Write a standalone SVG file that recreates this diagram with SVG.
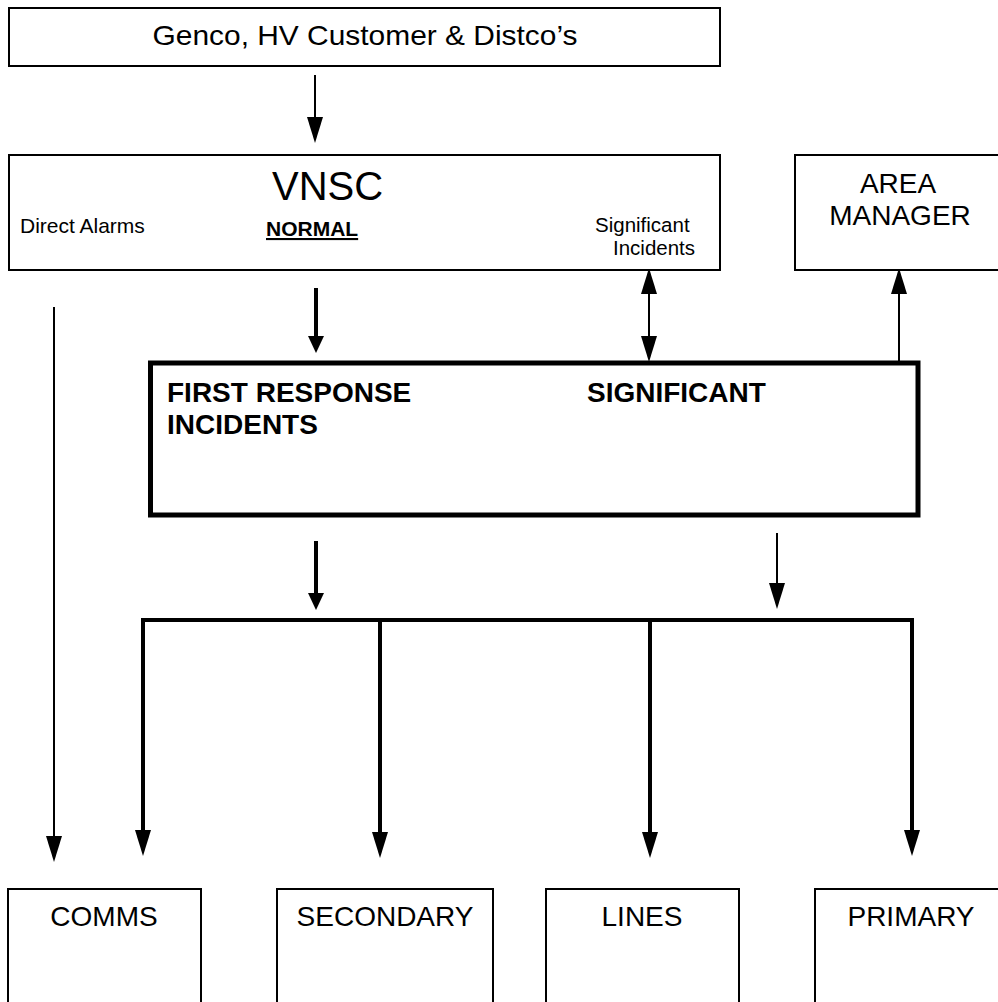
<svg xmlns="http://www.w3.org/2000/svg" width="998" height="1002" viewBox="0 0 998 1002">
<style>
.box{fill:#fff;stroke:#000;stroke-width:2}
.bigbox{fill:#fff;stroke:#000;stroke-width:5}
.t{font-family:"Liberation Sans",Arial,sans-serif;fill:#000}
.b{font-weight:bold}
.thin{stroke:#000;stroke-width:2;fill:none}
.thick{stroke:#000;stroke-width:4;fill:none}
</style>
<defs>
<marker id="ah" viewBox="0 0 26 16" refX="0" refY="8" markerWidth="26" markerHeight="16" markerUnits="userSpaceOnUse" orient="auto-start-reverse">
<path d="M0,0 L26,8 L0,16 Z" fill="#000"/>
</marker>
<marker id="ahs" viewBox="0 0 17 16" refX="0" refY="8" markerWidth="17" markerHeight="16" markerUnits="userSpaceOnUse" orient="auto">
<path d="M0,0 L17,8 L0,16 Z" fill="#000"/>
</marker>
</defs>
<rect width="998" height="1002" fill="#fff"/>
<g id="connectors">
<line class="thin" x1="315" y1="75" x2="315" y2="117" marker-end="url(#ah)"/>
<line class="thick" x1="316" y1="288" x2="316" y2="336" marker-end="url(#ahs)"/>
<line class="thin" x1="649" y1="294" x2="649" y2="336" marker-start="url(#ah)" marker-end="url(#ah)"/>
<line class="thin" x1="899" y1="362" x2="899" y2="294" marker-end="url(#ah)"/>
<line class="thin" x1="54" y1="307" x2="54" y2="836" marker-end="url(#ah)"/>
<line class="thick" x1="316" y1="541" x2="316" y2="593" marker-end="url(#ahs)"/>
<line class="thin" x1="777" y1="533" x2="777" y2="583" marker-end="url(#ah)"/>
<path class="thick" d="M143,830 L143,620 L912,620 L912,830" stroke-width="5"/>
<line class="thick" x1="380" y1="620" x2="380" y2="832" marker-end="url(#ah)"/>
<line class="thick" x1="650" y1="620" x2="650" y2="832" marker-end="url(#ah)"/>
<line class="thick" x1="143" y1="620" x2="143" y2="830" marker-end="url(#ah)"/>
<line class="thick" x1="912" y1="620" x2="912" y2="830" marker-end="url(#ah)"/>
</g>
<g id="genco">
<rect class="box" x="9" y="8" width="711" height="58"/>
<text class="t" x="365" y="45" font-size="28" text-anchor="middle" textLength="425" lengthAdjust="spacingAndGlyphs">Genco, HV Customer &amp; Distco’s</text>
</g>
<g id="vnsc">
<rect class="box" x="9" y="155" width="711" height="115"/>
<text class="t" x="272" y="200" font-size="40">VNSC</text>
<text class="t" x="20" y="233" font-size="21">Direct Alarms</text>
<text class="t b" x="266" y="236" font-size="21" text-decoration="underline">NORMAL</text>
<text class="t" x="595" y="232" font-size="20.5">Significant</text>
<text class="t" x="613" y="255" font-size="20.5">Incidents</text>
</g>
<g id="area-manager">
<rect class="box" x="795" y="155" width="210" height="115"/>
<text class="t" x="898" y="193" font-size="28" text-anchor="middle">AREA</text>
<text class="t" x="900" y="225" font-size="28" text-anchor="middle">MANAGER</text>
</g>
<g id="first-response">
<rect class="bigbox" x="150.5" y="363" width="767.5" height="152"/>
<text class="t b" x="167" y="402" font-size="28">FIRST RESPONSE</text>
<text class="t b" x="167" y="434" font-size="28">INCIDENTS</text>
<text class="t b" x="587" y="402" font-size="28">SIGNIFICANT</text>
</g>
<g id="comms">
<rect class="box" x="8" y="889" width="193" height="130"/>
<text class="t" x="104" y="926" font-size="28" text-anchor="middle">COMMS</text>
</g>
<g id="secondary">
<rect class="box" x="277" y="889" width="216" height="130"/>
<text class="t" x="385" y="926" font-size="28" text-anchor="middle">SECONDARY</text>
</g>
<g id="lines">
<rect class="box" x="546" y="889" width="193" height="130"/>
<text class="t" x="642" y="926" font-size="28" text-anchor="middle">LINES</text>
</g>
<g id="primary">
<rect class="box" x="815" y="889" width="200" height="130"/>
<text class="t" x="911" y="926" font-size="28" text-anchor="middle">PRIMARY</text>
</g>
</svg>
